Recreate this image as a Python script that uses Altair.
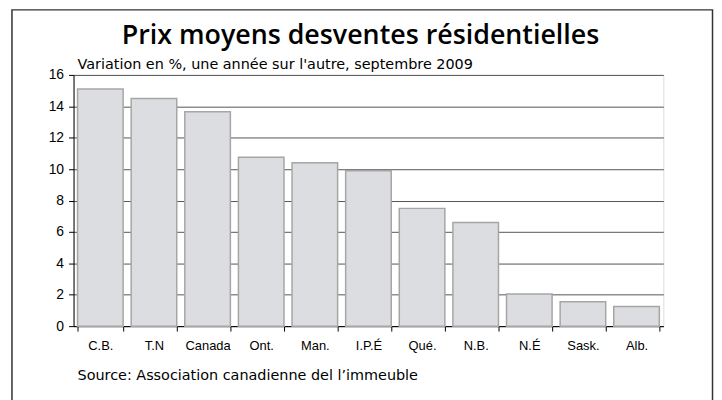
import altair as alt
import pandas as pd

categories = ["C.B.", "T.N", "Canada", "Ont.", "Man.", "I.P.É", "Qué.", "N.B.", "N.É", "Sask.", "Alb."]
values = [15.1, 14.5, 13.65, 10.75, 10.4, 9.9, 7.5, 6.6, 2.05, 1.55, 1.25]
title_text = "Prix moyens desventes résidentielles"
subtitle_text = "Variation en %, une année sur l'autre, septembre 2009"
source_text = "Source: Association canadienne del l’immeuble"
y_ticks = [0, 2, 4, 6, 8, 10, 12, 14, 16]

df = pd.DataFrame({"cat": categories, "val": values})

W, H = 594, 253
FONT = "Liberation Sans"
HFONT = "Open Sans"
SFONT = "DejaVu Sans"

bars = alt.Chart(df).mark_bar(
    fill="#dcdde0", stroke="#a6a6a6", strokeWidth=1.5
).encode(
    x=alt.X("cat:N", sort=categories,
            scale=alt.Scale(paddingInner=0.15, paddingOuter=0.075),
            axis=alt.Axis(title=None, labelAngle=0, labelFont=FONT, labelFontSize=13,
                          labelColor="#000", domainColor="#000", tickColor="#000",
                          tickSize=5, tickBand="extent", labelPadding=9, grid=False)),
    y=alt.Y("val:Q", scale=alt.Scale(domain=[0, 16], nice=False),
            axis=alt.Axis(title=None, values=y_ticks, labelFont=FONT, labelFontSize=14,
                          labelColor="#000", domainColor="#000", tickColor="#000",
                          tickSize=5, labelPadding=5, grid=True, gridColor="#555",
                          gridWidth=1)),
)

def text_layer(txt, x, y, size, weight="normal", align="left", font=FONT):
    return alt.Chart(pd.DataFrame({"t": [txt]})).mark_text(
        align=align, baseline="alphabetic", fontSize=size, fontWeight=weight,
        font=font, color="#000"
    ).encode(text="t:N", x=alt.value(x), y=alt.value(y))

title = text_layer(title_text, 289, -31, 27, weight=600, align="center", font=HFONT)
subtitle = text_layer(subtitle_text, 4, -6, 14.5, font=SFONT)
source = text_layer(source_text, 4, 307, 14.5, font=SFONT)

frame = alt.Chart(pd.DataFrame({"a": [0]})).mark_rect(
    fill=None, stroke="#333", strokeWidth=1.5
).encode(x=alt.value(-62), x2=alt.value(643.5), y=alt.value(-65.5), y2=alt.value(400))

chart = alt.layer(frame, bars, title, subtitle, source).properties(
    width=W, height=H,
    autosize=alt.AutoSizeParams(type="none"),
    padding={"left": 66, "top": 66, "right": 51, "bottom": 73},
).configure_view(stroke="#a0a0a0", strokeWidth=1.5).configure(background="white")

chart.save("out.html", embed_options={"renderer": "svg", "actions": False})
